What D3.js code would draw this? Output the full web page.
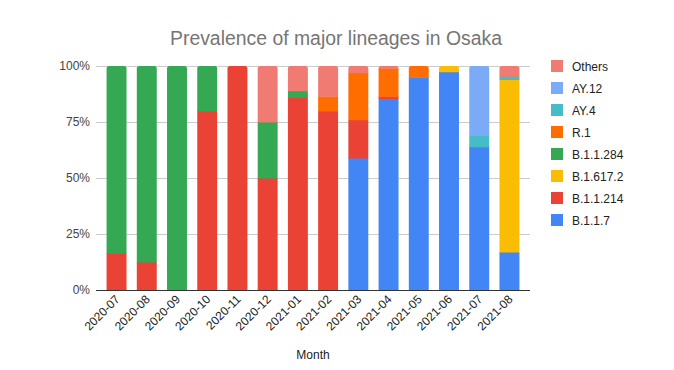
<!DOCTYPE html>
<html><head><meta charset="utf-8">
<script src="https://cdn.jsdelivr.net/npm/d3@7"></script>
<style>body{margin:0;background:#fff;}svg{display:block;font-family:"Liberation Sans",Arial,sans-serif;}</style>
</head><body><svg id="c" width="674" height="370"></svg>
<script>
const months = ["2020-07","2020-08","2020-09","2020-10","2020-11","2020-12","2021-01","2021-02","2021-03","2021-04","2021-05","2021-06","2021-07","2021-08"];
const seriesNames = ["B.1.1.7","B.1.1.214","B.1.617.2","B.1.1.284","R.1","AY.4","AY.12","Others"];
const colors = ["#4285F4","#EA4335","#FBBC04","#34A853","#FF6D01","#46BDC6","#7BAAF7","#F07B72"];
const b117   = [0,0,0,0,0,0,0,0,59,85.5,95,97.5,64,17];
const b11214 = [16.5,12.5,0,80,100,50,86,80,17,1,0,0,0,0];
const b16172 = [0,0,0,0,0,0,0,0,0,0,0,2.5,0,77];
const b11284 = [83.5,87.5,100,20,0,25,3,0,0,0,0,0,0,0];
const r1     = [0,0,0,0,0,0,0,6.5,21,12.5,5,0,0,0];
const ay4    = [0,0,0,0,0,0,0,0,0,0,0,0,5,1.5];
const ay12   = [0,0,0,0,0,0,0,0,0,0,0,0,31,0];
const others = [0,0,0,0,0,25,11,13.5,3,1,0,0,0,4.5];
const yTicks = [0,25,50,75,100];
const seriesValues = [b117,b11214,b16172,b11284,r1,ay4,ay12,others];

const rows = months.map((m,i)=>{const o={month:m};seriesNames.forEach((s,j)=>o[s]=seriesValues[j][i]);return o;});
const stack = d3.stack().keys(seriesNames)(rows);

const svg = d3.select("#c");
const x = d3.scaleBand().domain(months).range([96,530]).paddingInner(0.34).paddingOuter(0.35);
const y = d3.scaleLinear().domain([0,100]).range([290,66]);

// gridlines
svg.append("g").selectAll("line").data(yTicks.filter(t=>t>0)).join("line")
  .attr("x1",96).attr("x2",530).attr("y1",d=>Math.round(y(d))+0.5).attr("y2",d=>Math.round(y(d))+0.5)
  .attr("stroke","#cccccc").attr("stroke-width",1);

// top index for each bar
const topIdx = months.map((m,i)=>{let t=-1;seriesNames.forEach((s,j)=>{if(seriesValues[j][i]>0)t=j;});return t;});

function segPath(x0,w,y0,y1,round,first){
  const r = round?Math.min(2.5,(y0-y1)):0;
  const yb = first ? y0 : y0+0.6;
  return `M${x0},${yb}L${x0},${y1+r}Q${x0},${y1} ${x0+r},${y1}L${x0+w-r},${y1}Q${x0+w},${y1} ${x0+w},${y1+r}L${x0+w},${yb}Z`;
}
stack.forEach((layer,j)=>{
  svg.append("g").attr("fill",colors[j]).selectAll("path").data(layer).join("path")
    .filter(d=>d[1]-d[0]>0)
    .attr("d",(d,i)=>{
      const idx = months.indexOf(d.data.month);
      return segPath(x(d.data.month),x.bandwidth(),y(d[0]),y(d[1]),topIdx[idx]===j,d[0]===0);
    });
});

// baseline
svg.append("line").attr("x1",96).attr("x2",530).attr("y1",290.5).attr("y2",290.5).attr("stroke","#333").attr("stroke-width",1);

// y labels
svg.append("g").selectAll("text").data(yTicks).join("text")
  .attr("x",90).attr("y",d=>y(d)+4).attr("text-anchor","end")
  .attr("font-size",12).attr("fill","#444").text(d=>d+"%");

// x labels
svg.append("g").selectAll("text").data(months).join("text")
  .attr("transform",d=>`translate(${x(d)+x.bandwidth()/2+4},${300}) rotate(-45)`)
  .attr("text-anchor","end").attr("font-size",12).attr("fill","#222").text(d=>d);

// axis title
svg.append("text").attr("x",313).attr("y",359).attr("text-anchor","middle").attr("font-size",12).attr("fill","#222").text("Month");

// title
svg.append("text").attr("x",336).attr("y",45).attr("text-anchor","middle").attr("font-size",19.4).attr("fill","#757575").text("Prevalence of major lineages in Osaka");

// legend
const leg = seriesNames.map((s,j)=>({name:s,color:colors[j]})).reverse();
const lg = svg.append("g").selectAll("g").data(leg).join("g").attr("transform",(d,i)=>`translate(551,${60+i*22})`);
lg.append("rect").attr("width",12).attr("height",12).attr("fill",d=>d.color);
lg.append("text").attr("x",21).attr("y",10.5).attr("font-size",12).attr("fill","#222").text(d=>d.name);
</script></body></html>
